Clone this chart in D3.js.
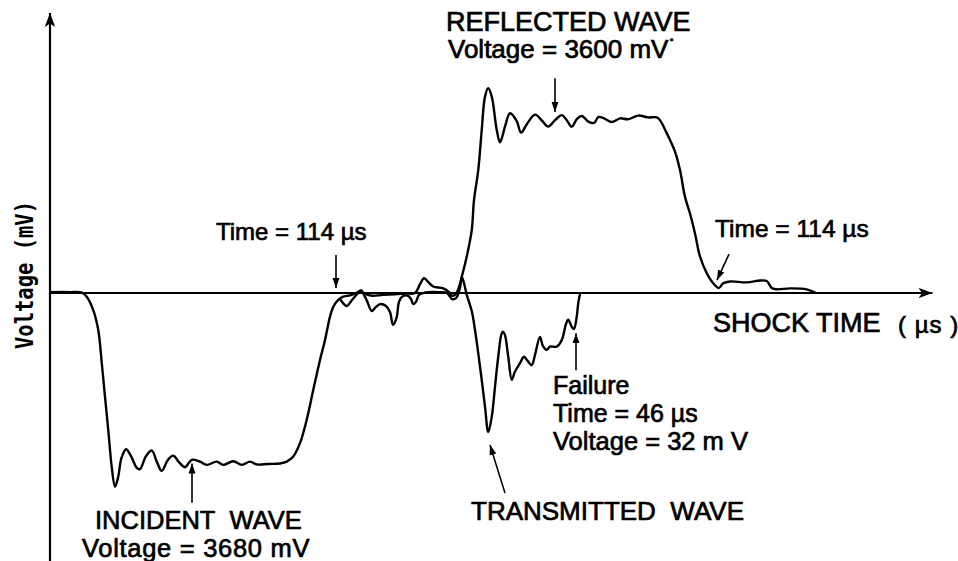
<!DOCTYPE html>
<html>
<head>
<meta charset="utf-8">
<script src="https://cdn.jsdelivr.net/npm/d3@7"></script>
<style>
  html, body { margin: 0; padding: 0; background: #fff; }
  svg { display: block; }
  .lbl { font-family: "Liberation Sans", Arial, sans-serif; fill: #000; stroke: #000; stroke-width: 0.7; }
</style>
</head>
<body>
<svg id="chart" width="958" height="561"></svg>
<script>
// Gauge 1: incident pulse, then the reflected pulse (time in µs, voltage in mV)
const incidentReflected = [
  [0, 20], [8, 20], [12.8, 10], [14.7, -80], [17.3, -370], [19.3, -800], [20.7, -1510],
  [22, -2250], [23.3, -2960], [24.7, -3770], [26, -4190], [27.2, -4000], [28.6, -3570],
  [30.4, -3380], [32.4, -3530], [34.8, -3790], [36, -3810], [38.4, -3530], [40.7, -3410],
  [42.8, -3660], [44.7, -3850], [47.2, -3610], [49.3, -3520], [51.6, -3660], [54, -3770],
  [56.7, -3610], [60, -3650], [62.7, -3720], [66.7, -3650], [69.3, -3720], [73.3, -3640],
  [76.7, -3720], [80, -3650], [82.7, -3710], [87.2, -3700], [92, -3690], [94.7, -3650],
  [97.3, -3540], [100, -3250], [102, -2890], [103.3, -2600], [105.3, -2100], [108, -1450],
  [110, -1020], [112, -510], [113.3, -300], [115.3, -150], [117.3, -80], [120, -50],
  [122.4, 0], [124, 40], [126, -20], [128.8, -60], [133.2, -40], [138, -30], [142, -10],
  [146, 0], [148, 190], [149.6, 320], [151.6, 220], [153.3, 140], [157.3, 100], [159.6, 20],
  [160.8, -60], [162.4, -20], [163.6, 130], [164.8, 370], [166.7, 790], [168.7, 1360],
  [169.6, 2010], [171.3, 2660], [172.7, 3530], [174, 4250], [175.3, 4430], [176.7, 4250],
  [178.7, 3530], [180, 3260], [182, 3600], [184, 3890], [186.7, 3720], [188.4, 3470],
  [190.8, 3660], [194, 3860], [196.8, 3730], [199.3, 3600], [202, 3740], [204.7, 3850],
  [206.7, 3740], [208.7, 3600], [210.8, 3770], [212.8, 3830], [215.3, 3710], [217.6, 3680],
  [219.4, 3810], [221.6, 3780], [224.7, 3700], [228, 3780], [231.2, 3760], [235.3, 3840],
  [239.2, 3800], [242.7, 3800], [244, 3740], [246.7, 3460], [250, 3060], [252, 2660],
  [254, 2080], [256, 1720], [258, 1290], [260, 790], [262.7, 430], [265.3, 210],
  [267.6, 110], [269.3, 210], [272, 250], [278.7, 230], [284, 270], [286.7, 260],
  [288.7, 110], [290.7, 80], [296, 100], [302.7, 80], [306, 10]
];

// Gauge 2: transmitted pulse up to specimen failure
const transmitted = [
  [116, -130], [118.7, -280], [120.8, -150], [123.2, 0], [124.4, 60], [125.6, -40],
  [126.8, -170], [128.7, -390], [130.4, -300], [132, -240], [134.4, -280], [136, -410],
  [137.2, -690], [138.6, -540], [139.6, -190], [140.8, -80], [143.2, -60], [144.4, -130],
  [145.3, -240], [146.4, -190], [147.6, -40], [150, 10], [156, 20], [158.8, 0],
  [160.8, -130], [162.4, -110], [164, 110], [164.8, 350], [166.7, -40], [168.7, -390],
  [170, -800], [172, -1590], [174, -2460], [175.3, -3010], [176.7, -2680], [178, -2030],
  [179.3, -1380], [180.7, -870], [181.3, -840], [182, -910], [183.3, -1380], [184.7, -1880],
  [186, -1700], [188, -1520], [189.6, -1380], [190.8, -1450], [192.7, -1560], [194, -1340],
  [196, -950], [197.2, -1150], [198.7, -1230], [200, -1160], [202.7, -1160], [204.7, -1020],
  [206.4, -670], [207.3, -580], [208.7, -730], [209.6, -780], [210.7, -510], [211.3, -220],
  [212, -20]
];

// Axis extents
const timeMax = 353;
const voltExtent = [-5800, 6060];

const svg = d3.select("#chart");
const x = d3.scaleLinear().domain([0, timeMax]).range([50, 932.5]);
const y = d3.scaleLinear().domain(voltExtent).range([561, 13]);

const defs = svg.append("defs");
defs.append("marker")
  .attr("id", "head")
  .attr("viewBox", "0 0 10 10")
  .attr("refX", 10).attr("refY", 5)
  .attr("markerWidth", 10).attr("markerHeight", 10)
  .attr("markerUnits", "userSpaceOnUse")
  .attr("orient", "auto")
  .append("path").attr("d", "M0,1.5 L10,5 L0,8.5 Z").attr("fill", "#000");

defs.append("marker")
  .attr("id", "axisHead")
  .attr("viewBox", "0 0 12 12")
  .attr("refX", 12).attr("refY", 6)
  .attr("markerWidth", 14).attr("markerHeight", 14)
  .attr("markerUnits", "userSpaceOnUse")
  .attr("orient", "auto")
  .append("path").attr("d", "M0,1.5 L12,6 L0,10.5 L3,6 Z").attr("fill", "#000");

// Axes
svg.append("line")
  .attr("x1", x(0)).attr("y1", y(voltExtent[0]))
  .attr("x2", x(0)).attr("y2", y(voltExtent[1]))
  .attr("stroke", "#000").attr("stroke-width", 2.2)
  .attr("marker-end", "url(#axisHead)");

svg.append("line")
  .attr("x1", x(0)).attr("y1", y(0))
  .attr("x2", x(timeMax)).attr("y2", y(0))
  .attr("stroke", "#000").attr("stroke-width", 1.8)
  .attr("marker-end", "url(#axisHead)");

// Traces
const line = d3.line()
  .x(d => x(d[0]))
  .y(d => y(d[1]))
  .curve(d3.curveCatmullRom.alpha(0.5));

[incidentReflected, transmitted].forEach(series => {
  svg.append("path")
    .datum(series)
    .attr("d", line)
    .attr("fill", "none")
    .attr("stroke", "#000")
    .attr("stroke-width", 2.4)
    .attr("stroke-linejoin", "round")
    .attr("stroke-linecap", "round");
});

// Pointer arrows: [fromTime, fromVolt, toTime, toVolt]
const pointers = [
  [202, 4650, 202, 3920],        // reflected wave
  [114.4, 820, 114.4, 110],      // end of incident pulse
  [271.6, 840, 266.8, 280],      // end of reflected pulse
  [56.8, -4540, 56.8, -3690],    // incident wave
  [182, -4330, 176, -3290],      // transmitted wave
  [210.4, -1670, 210.4, -870]    // failure point
];
svg.selectAll("line.ptr")
  .data(pointers)
  .join("line")
  .attr("class", "ptr")
  .attr("x1", d => x(d[0])).attr("y1", d => y(d[1]))
  .attr("x2", d => x(d[2])).attr("y2", d => y(d[3]))
  .attr("stroke", "#000").attr("stroke-width", 1.6)
  .attr("marker-end", "url(#head)");

// Text labels
function label(txt, px, py, size, anchor) {
  return svg.append("text")
    .attr("class", "lbl")
    .attr("x", px).attr("y", py)
    .attr("font-size", size)
    .attr("text-anchor", anchor || "start")
    .text(txt);
}

label("REFLECTED WAVE", 446, 31, 27);
label("Voltage = 3600 mV˙", 448, 58, 26);
label("Time = 114 \u00b5s", 216, 240, 24);
label("Time = 114 \u00b5s", 715, 237, 24.5);
label("SHOCK TIME", 713, 332, 27);
label("( \u00b5s )", 898, 333, 24).attr("letter-spacing", 1);
label("Failure", 553, 394, 25);
label("Time = 46 \u00b5s", 553, 422, 25);
label("Voltage = 32 m V", 553, 450, 25.5);
label("TRANSMITTED\u00a0 WAVE", 471, 520, 26);
label("INCIDENT\u00a0 WAVE", 95, 529, 25.5);
label("Voltage = 3680 mV", 82, 557, 25.5).attr("letter-spacing", 0.7);

// Vertical axis title
svg.append("text")
  .attr("transform", "translate(33,275) rotate(-90)")
  .attr("text-anchor", "middle")
  .attr("font-family", "'DejaVu Sans Mono', monospace")
  .attr("font-weight", "bold")
  .attr("font-size", 24)
  .attr("textLength", 148)
  .attr("lengthAdjust", "spacingAndGlyphs")
  .attr("fill", "#000")
  .text("Voltage (mV)");
</script>
</body>
</html>
